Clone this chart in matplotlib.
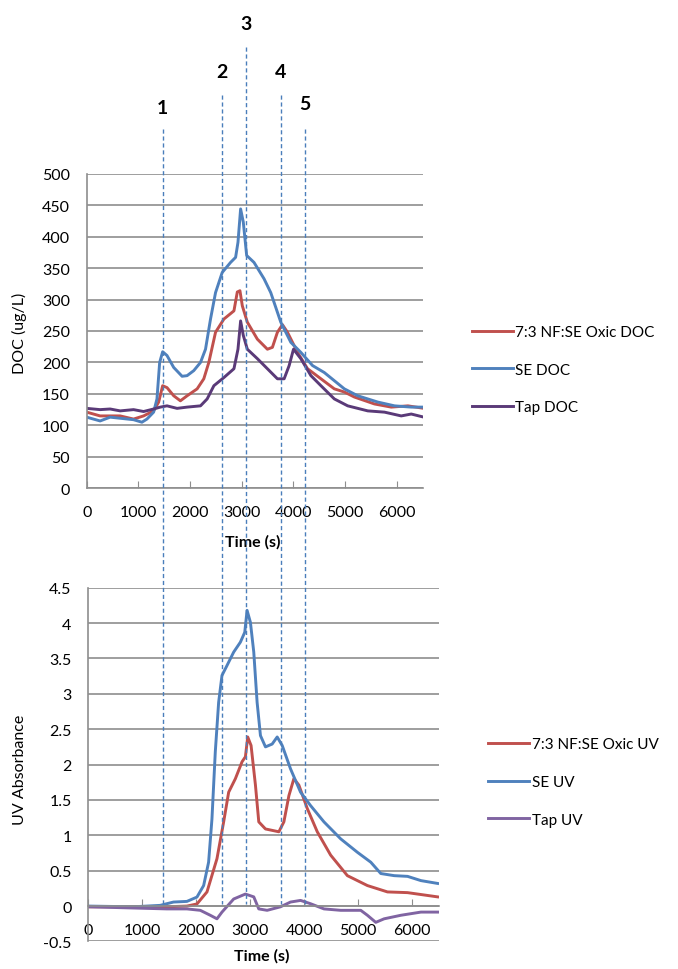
import matplotlib
matplotlib.use("Agg")
import matplotlib.pyplot as plt
import matplotlib.transforms as mtransforms
from matplotlib.lines import Line2D

plt.rcParams['font.family'] = ['Lato', 'DejaVu Sans']
plt.rcParams['font.size'] = 11.5

# --- DOC panel (time in s, DOC in ug/L) ---
se_doc_t = [0, 259, 453, 906, 1068, 1165, 1294, 1359, 1411, 1469, 1553, 1683, 1845, 1942,
            2071, 2201, 2298, 2395, 2492, 2621, 2783, 2880, 2926, 2977, 3029, 3094, 3236,
            3430, 3560, 3754, 3948, 4142, 4369, 4595, 4984, 5243, 5631, 5955, 6278, 6524]
se_doc = [113, 107, 113, 109, 105, 110, 121, 142, 200, 217, 211, 192, 178, 179,
          187, 200, 221, 269, 311, 343, 359, 367, 391, 444, 423, 370, 359,
          333, 311, 264, 232, 216, 195, 184, 158, 147, 137, 131, 129, 129]

mix_doc_t = [0, 259, 647, 906, 1100, 1294, 1392, 1469, 1553, 1683, 1812, 1942, 2136, 2265,
             2362, 2492, 2654, 2848, 2913, 2964, 3010, 3107, 3301, 3495, 3592, 3689, 3786,
             3883, 4078, 4272, 4531, 4790, 4984, 5178, 5566, 5890, 6214, 6524]
mix_doc = [121, 115, 115, 110, 115, 123, 137, 163, 160, 147, 139, 147, 158, 174,
           200, 248, 269, 282, 312, 314, 290, 264, 237, 221, 224, 248, 260,
           248, 216, 190, 174, 158, 153, 145, 134, 129, 131, 127]

tap_doc_t = [0, 259, 453, 647, 906, 1100, 1294, 1424, 1553, 1748, 1942, 2201, 2330, 2460,
             2654, 2848, 2926, 2977, 3029, 3107, 3301, 3495, 3689, 3819, 3916, 4000, 4142,
             4337, 4531, 4790, 5049, 5437, 5760, 6084, 6278, 6524]
tap_doc = [127, 125, 126, 123, 125, 122, 126, 129, 131, 127, 129, 131, 142, 163,
           176, 190, 221, 266, 243, 221, 206, 190, 174, 174, 195, 221, 206,
           179, 163, 142, 131, 123, 121, 115, 118, 113]

# --- UV panel ---
se_uv_t = [0, 836, 1332, 1580, 1828, 2014, 2138, 2230, 2292, 2354, 2416, 2478, 2571, 2695,
           2819, 2900, 2943, 3005, 3067, 3129, 3191, 3284, 3408, 3501, 3594, 3748, 3934,
           4120, 4368, 4678, 4988, 5236, 5421, 5669, 5917, 6165, 6474]
se_uv = [0.0, -0.01, 0.01, 0.057, 0.066, 0.127, 0.29, 0.62, 1.23, 2.18, 2.88, 3.26, 3.40, 3.59,
         3.73, 3.87, 4.18, 4.01, 3.59, 2.88, 2.41, 2.25, 2.29, 2.39, 2.27, 1.94, 1.61,
         1.42, 1.19, 0.95, 0.76, 0.62, 0.46, 0.43, 0.42, 0.36, 0.32]

mix_uv_t = [0, 1456, 1828, 2014, 2200, 2385, 2509, 2602, 2726, 2850, 2912, 2955, 3017, 3098,
            3160, 3284, 3408, 3532, 3625, 3718, 3810, 3903, 4058, 4244, 4492, 4802, 5173,
            5545, 5917, 6474]
mix_uv = [-0.01, -0.01, 0.0, 0.03, 0.2, 0.67, 1.19, 1.61, 1.80, 2.04, 2.11, 2.39, 2.27, 1.71,
          1.19, 1.09, 1.07, 1.05, 1.19, 1.56, 1.80, 1.71, 1.38, 1.05, 0.72, 0.43, 0.29,
          0.2, 0.19, 0.13]

tap_uv_t = [0, 1456, 1828, 2076, 2261, 2385, 2478, 2695, 2912, 3067, 3160, 3315, 3563, 3748,
            3934, 4120, 4368, 4678, 5050, 5173, 5328, 5483, 5793, 6165, 6474]
tap_uv = [-0.01, -0.04, -0.04, -0.06, -0.13, -0.18, -0.085, 0.10, 0.17, 0.13, -0.04, -0.06,
          -0.01, 0.057, 0.08, 0.033, -0.04, -0.06, -0.06, -0.13, -0.23, -0.18, -0.13,
          -0.085, -0.085]

# stage markers (times read on the DOC axis)
stage_labels = ['1', '2', '3', '4', '5']
stage_times = [1470, 2610, 3085, 3755, 4220]

RED = '#c0504d'
BLUE = '#4f81bd'
TAP_DOC = '#5a3a78'
TAP_UV = '#8064a2'
GRID = '#8e8e8e'

fig = plt.figure(figsize=(6.78, 9.70), dpi=100)
ax1 = fig.add_axes([0.1279, 0.4956, 0.4956, 0.3243])
ax2 = fig.add_axes([0.1302, 0.0284, 0.5173, 0.3647])


def style_axes(ax):
    ax.set_xlim(0, 6500)
    ax.set_xticks(range(0, 7000, 1000))
    ax.grid(axis='y', color=GRID, lw=1.2)
    ax.set_axisbelow(True)
    for side in ['top', 'right']:
        ax.spines[side].set_visible(False)
    for side in ['left', 'bottom']:
        ax.spines[side].set_color(GRID)
        ax.spines[side].set_linewidth(1.2)
    ax.tick_params(axis='y', length=0, pad=12)
    ax.tick_params(axis='x', direction='in', length=5, color=GRID, pad=12)


ax1.plot(mix_doc_t, mix_doc, color=RED, lw=2.1, label='7:3 NF:SE Oxic DOC')
ax1.plot(se_doc_t, se_doc, color=BLUE, lw=2.1, label='SE DOC')
ax1.plot(tap_doc_t, tap_doc, color=TAP_DOC, lw=2.1, label='Tap DOC')
style_axes(ax1)
ax1.set_ylim(0, 500)
ax1.set_yticks(range(0, 550, 50))
ax1.set_ylabel('DOC (ug/L)')
ax1.yaxis.set_label_coords(-0.178, 0.497)
ax1.set_xlabel('Time (s)', fontweight='bold')
ax1.xaxis.set_label_coords(0.495, -0.145)

ax2.plot(mix_uv_t, mix_uv, color=RED, lw=2.1, label='7:3 NF:SE Oxic UV')
ax2.plot(se_uv_t, se_uv, color=BLUE, lw=2.1, label='SE UV')
ax2.plot(tap_uv_t, tap_uv, color=TAP_UV, lw=2.1, label='Tap UV')
style_axes(ax2)
ax2.set_ylim(-0.5, 4.5)
ax2.set_yticks([-0.5, 0, 0.5, 1, 1.5, 2, 2.5, 3, 3.5, 4, 4.5])
ax2.set_yticklabels(['-0.5', '0', '0.5', '1', '1.5', '2', '2.5', '3', '3.5', '4', '4.5'])
ax2.spines['bottom'].set_position(('data', 0))
ax2.set_ylabel('UV Absorbance')
ax2.yaxis.set_label_coords(-0.175, 0.488)
ax2.set_xlabel('Time (s)', fontweight='bold')
ax2.xaxis.set_label_coords(0.494, -0.02)

for ax, anchor in [(ax1, (0.696, 0.664)), (ax2, (0.720, 0.239))]:
    ax.legend(loc='upper left', bbox_to_anchor=anchor, bbox_transform=fig.transFigure,
              frameon=False, fontsize=11, handlelength=2.7, handletextpad=0.15,
              labelspacing=1.55, borderpad=0, borderaxespad=0)

# dashed stage lines spanning both panels
trans = mtransforms.blended_transform_factory(ax1.transData, fig.transFigure)
line_tops = [130, 96, 48, 96, 130]
label_ys = [108, 73, 25, 73, 105]
y_bottom = 1 - 905 / 970
for lab, t, top, ly in zip(stage_labels, stage_times, line_tops, label_ys):
    fig.add_artist(Line2D([t, t], [1 - top / 970, y_bottom], transform=trans,
                          color='#4a7ebb', lw=1, linestyle=(0, (3, 2))))
    fig.text(t, 1 - ly / 970, lab, transform=trans, ha='center', va='center',
             fontsize=14, fontweight='bold')

fig.savefig('out.png', dpi=100)
